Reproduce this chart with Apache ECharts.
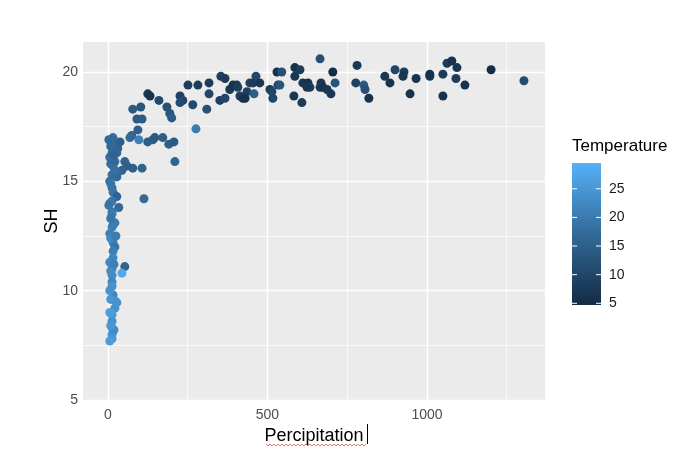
<!DOCTYPE html>
<html>
<head>
<meta charset="utf-8">
<script src="https://cdn.jsdelivr.net/npm/echarts@6/dist/echarts.min.js"></script>
<style>html,body{margin:0;background:#fff}#main{width:699px;height:455px}</style>
</head>
<body>
<div id="main"></div>
<script>
// precipitation (x), SH (y), temperature (colour)
var precip = [16, 78, 103, 91, 107, 94, 125, 132, 160, 185, 194, 200, 226, 235, 226, 251, 266, 282, 317, 317,
  310, 276, 354, 367, 351, 367, 382, 392, 404, 407, 414, 423, 436, 430, 445, 455, 464, 476, 458, 508,
  517, 533, 530, 665, 545, 586, 602, 586, 539, 514, 611, 627, 633, 624, 583, 608, 668, 665, 674, 687,
  699, 705, 712, 781, 777, 802, 806, 818, 868, 884, 900, 928, 925, 947, 966, 1009, 1009, 1050, 1050, 1063,
  1078, 1094, 1091, 1119, 1201, 1304,
  75, 69, 97, 13, 16, 38, 31, 28, 125, 141, 147, 172, 191, 207, 210, 13, 6, 9, 16, 22,
  53, 60, 44, 31, 78, 107, 13, 28, 13, 16, 28, 113, 34, 13, 13, 13, 22, 13, 16, 16,
  22, 16, 16, 53, 44, 13, 13, 13, 13, 16, 28, 22, 13, 13, 13, 13, 13, 19, 6,
  9, 6, 9, 6, 9, 6, 9, 6, 9, 6, 9, 25, 6, 9, 25, 19, 3, 22, 19, 3];
var sh = [17.0, 18.3, 18.4, 17.85, 17.85, 17.35, 19.0, 18.9, 18.7, 18.4, 18.1, 17.9, 18.9, 18.7, 18.6, 19.4, 18.5, 19.4, 19.5, 19.0,
  18.3, 17.4, 19.8, 19.7, 18.7, 18.8, 19.2, 19.4, 19.4, 19.3, 18.9, 18.8, 19.1, 18.8, 19.5, 19.5, 19.8, 19.5, 19.0, 19.2,
  18.8, 19.4, 20.0, 20.6, 20.0, 20.2, 20.1, 19.8, 19.4, 19.1, 19.5, 19.5, 19.3, 19.3, 18.9, 18.6, 19.5, 19.3, 19.3, 19.2,
  19.0, 20.0, 19.5, 20.3, 19.5, 19.4, 19.2, 18.8, 19.8, 19.5, 20.1, 20.0, 19.8, 19.0, 19.7, 19.8, 19.9, 19.9, 18.9, 20.4,
  20.5, 20.2, 19.7, 19.4, 20.1, 19.6,
  17.1, 17.0, 16.9, 16.9, 16.7, 16.8, 16.5, 16.3, 16.8, 16.9, 17.0, 17.0, 16.7, 16.8, 15.9, 16.3, 16.1, 15.8, 15.7, 15.9,
  15.9, 15.7, 15.5, 15.4, 15.6, 15.6, 15.3, 15.2, 14.7, 14.5, 14.3, 14.2, 13.8, 14.1, 13.6, 13.5, 13.1, 12.9, 13.0, 12.2,
  12.0, 11.8, 11.5, 11.1, 10.8, 11.0, 10.7, 10.4, 10.2, 9.8, 9.45, 9.2, 8.9, 8.6, 8.3, 8.0, 7.8, 8.2, 7.7,
  16.6, 15.0, 14.9, 14.0, 13.3, 12.6, 12.4, 11.3, 10.9, 10.0, 9.6, 9.5, 9.0, 8.4, 12.5, 16.2, 16.9, 15.5, 11.2, 13.9];
var temperature = [18, 14, 13, 14, 14, 15, 7, 6, 11, 12, 13, 14, 9, 10, 11, 8, 11, 8, 8, 10,
  12, 20, 9, 8, 9, 10, 7, 6, 7, 8, 8, 7, 9, 6, 9, 8, 10, 7, 15, 8,
  10, 9, 6, 12, 12, 6, 8, 7, 13, 10, 7, 6, 8, 7, 7, 8, 7, 8, 6, 7,
  7, 5, 13, 7, 9, 14, 12, 6, 7, 6, 10, 8, 7, 6, 7, 7, 6, 8, 6, 8,
  6, 7, 8, 6, 5, 11,
  16, 17, 21, 17, 17, 15, 16, 17, 15, 15, 14, 15, 15, 14, 16, 17, 18, 17, 18, 17,
  16, 15, 16, 17, 15, 16, 18, 17, 18, 19, 16, 17, 17, 19, 19, 20, 20, 22, 20, 21,
  19, 21, 22, 16, 28, 22, 23, 22, 24, 22, 23, 24, 25, 24, 25, 24, 25, 23, 26,
  17, 18, 19, 20, 19, 21, 22, 22, 23, 24, 25, 24, 26, 25, 20, 16, 17, 18, 21, 19];

var xTicks = [0, 500, 1000];
var xMinor = [250, 750, 1250];
var yTicks = [5, 10, 15, 20];
var yMinor = [7.5, 12.5, 17.5];
var tempTicks = [5, 10, 15, 20, 25];
var tempRange = [4.7, 29.5];
var lowColor = '#132B43', midColor = '#336A98', highColor = '#56B1F7';

var font = 'Liberation Sans, Arial, sans-serif';
var myChart = echarts.init(document.getElementById('main'));

var points = precip.map(function (p, i) { return [p, sh[i], temperature[i]]; });

function gridLines(values, dim, width) {
  return values.map(function (v) {
    var o = { lineStyle: { color: '#fff', width: width, type: 'solid' } };
    o[dim] = v;
    return o;
  });
}

// colour bar legend
var barLeft = 572, barTop = 163, barW = 29, barH = 142;
var legend = [
  { type: 'text', left: 572, top: 138, style: { text: 'Temperature', font: '17px ' + font, fill: '#000' } },
  { type: 'rect', shape: { x: barLeft, y: barTop, width: barW, height: barH },
    style: { fill: new echarts.graphic.LinearGradient(0, 0, 0, 1, [
      { offset: 0, color: highColor }, { offset: 0.5, color: midColor }, { offset: 1, color: lowColor }]) } }
];
tempTicks.forEach(function (t) {
  var y = barTop + barH - (t - tempRange[0]) / (tempRange[1] - tempRange[0]) * barH;
  legend.push({ type: 'line', shape: { x1: barLeft, y1: y, x2: barLeft + 5, y2: y }, style: { stroke: '#fff', lineWidth: 1 } });
  legend.push({ type: 'line', shape: { x1: barLeft + barW - 5, y1: y, x2: barLeft + barW, y2: y }, style: { stroke: '#fff', lineWidth: 1 } });
  legend.push({ type: 'text', x: 609, y: y, style: { text: String(t), font: '14px ' + font, fill: '#1a1a1a', verticalAlign: 'middle' } });
});
// spell-check squiggle and text cursor from the screenshot
var squiggle = [];
for (var sx = 266; sx <= 366; sx += 2) squiggle.push([sx, (sx / 2) % 2 ? 444 : 446]);
legend.push({ type: 'polyline', shape: { points: squiggle }, style: { stroke: '#d9534f', lineWidth: 0.8, fill: null } });
legend.push({ type: 'line', shape: { x1: 367.5, y1: 424, x2: 367.5, y2: 444 }, style: { stroke: '#000', lineWidth: 1 } });

var option = {
  animation: false,
  textStyle: { fontFamily: font },
  grid: { left: 83, top: 42, width: 462, height: 358, show: true, backgroundColor: '#EBEBEB', borderWidth: 0 },
  xAxis: {
    type: 'value', min: -78, max: 1370,
    name: 'Percipitation', nameLocation: 'middle', nameGap: 24,
    nameTextStyle: { fontSize: 18, color: '#000' },
    axisLine: { show: false }, axisTick: { show: false }, splitLine: { show: false },
    axisLabel: { customValues: xTicks, color: '#4D4D4D', fontSize: 14, margin: 8,
      formatter: function (v) { return String(v); } }
  },
  yAxis: {
    type: 'value', min: 5, max: 21.37,
    name: 'SH', nameLocation: 'middle', nameGap: 22, nameRotate: 90, nameMoveOverlap: false,
    nameTextStyle: { fontSize: 18, color: '#000' },
    axisLine: { show: false }, axisTick: { show: false }, splitLine: { show: false },
    axisLabel: { customValues: yTicks, color: '#4D4D4D', fontSize: 14, margin: 5 }
  },
  visualMap: {
    show: false, type: 'continuous', seriesIndex: 1, dimension: 2,
    min: tempRange[0], max: tempRange[1],
    inRange: { color: [lowColor, midColor, highColor] }
  },
  graphic: legend,
  series: [
    {
      type: 'scatter', data: [], silent: true, z: 1,
      markLine: {
        z: 1, silent: true, symbol: ['none', 'none'], label: { show: false }, animation: false,
        emphasis: { disabled: true },
        data: gridLines(xMinor, 'xAxis', 0.7).concat(gridLines(yMinor, 'yAxis', 0.7),
          gridLines(xTicks, 'xAxis', 1.4), gridLines(yTicks, 'yAxis', 1.4))
      }
    },
    {
      type: 'scatter', z: 3, symbolSize: 9, data: points,
      itemStyle: { opacity: 1 }
    }
  ]
};
myChart.setOption(option);
</script>
</body>
</html>
